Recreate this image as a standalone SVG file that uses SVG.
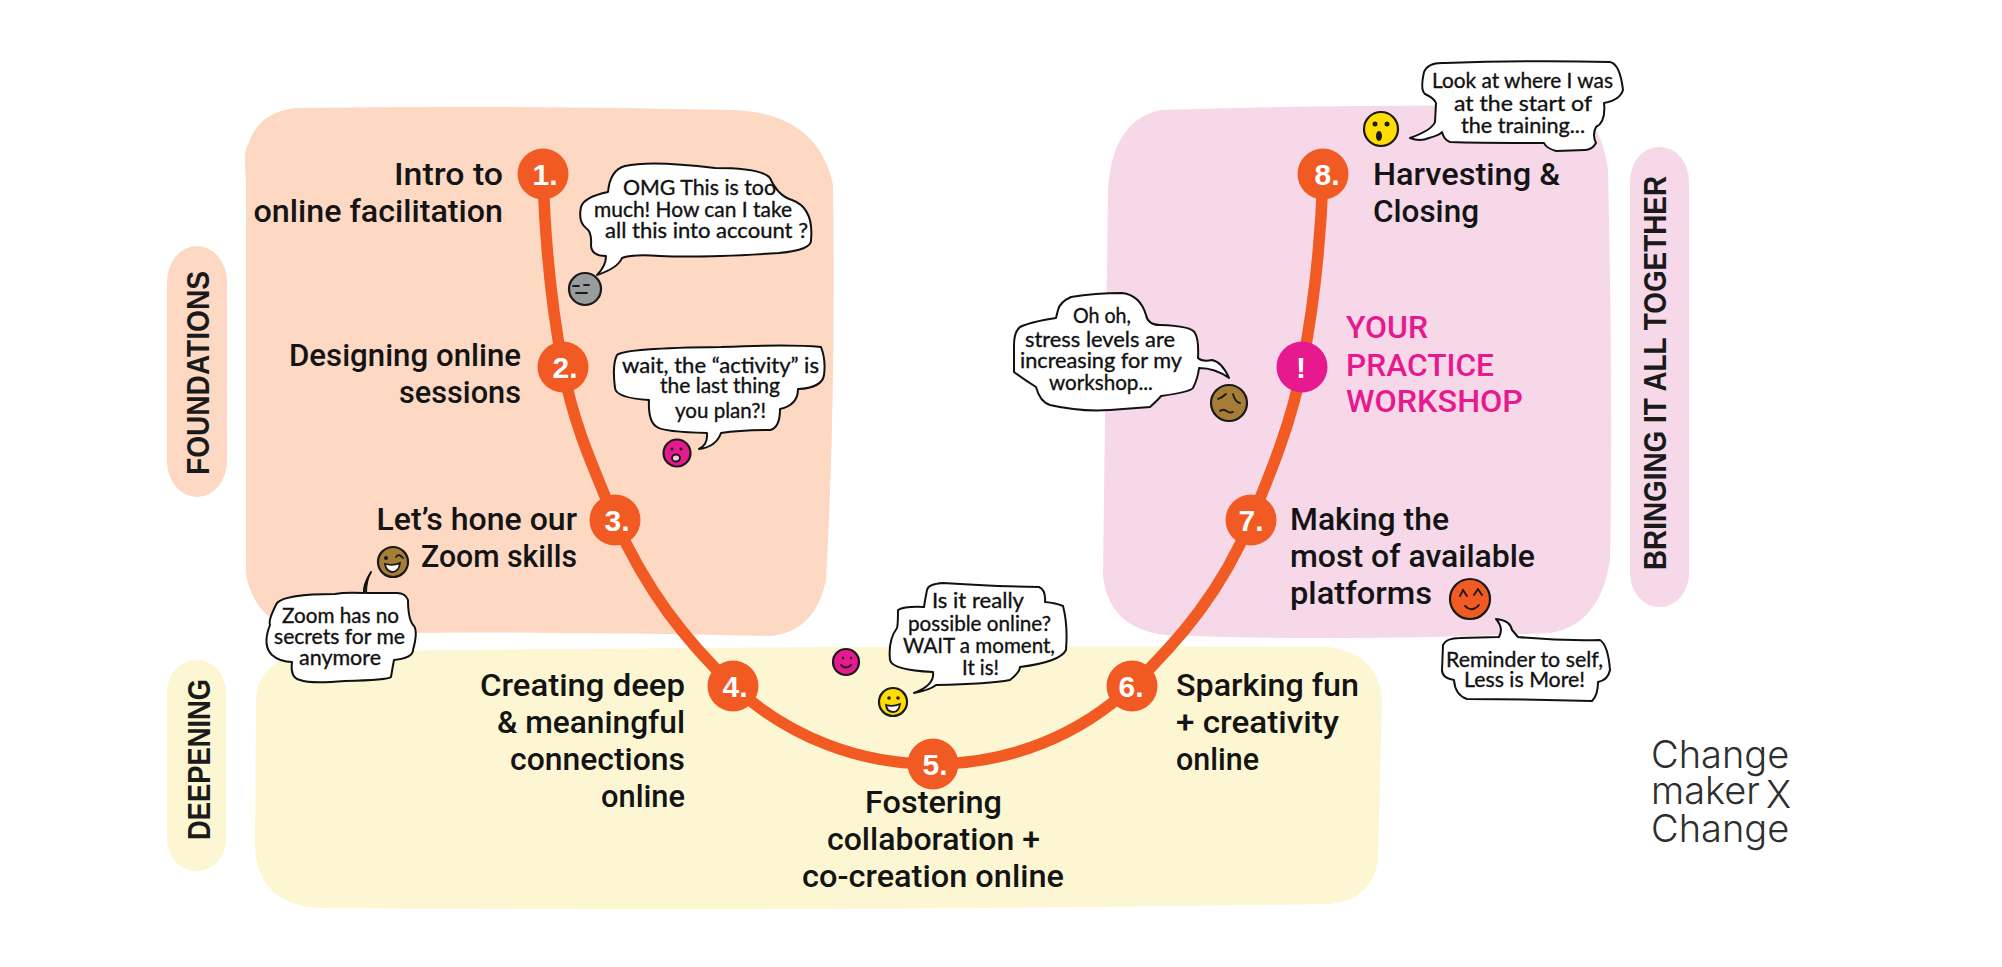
<svg xmlns="http://www.w3.org/2000/svg" width="2002" height="967" viewBox="0 0 2002 967">
<style>
.l{font-family:"Roboto","Liberation Sans",sans-serif;font-weight:500;font-size:31px;fill:#141414}
.p{font-family:"Roboto","Liberation Sans",sans-serif;font-weight:500;font-size:31px;fill:#E6198E}
.n{font-family:"Liberation Sans",Arial,sans-serif;font-weight:700;font-size:30px;fill:#fff;text-anchor:middle}
.s{font-family:"Liberation Sans",Arial,sans-serif;font-weight:700;font-size:31px;fill:#1a1a1a}
.h{font-family:"Lato","Liberation Sans",sans-serif;font-size:21px;fill:#111;stroke:#111;stroke-width:.35}
.g{font-family:"Inter","Liberation Sans",sans-serif;font-weight:300;font-size:38px;fill:#2e2e2e}
.b{fill:#fff;stroke:#111;stroke-width:2;stroke-linejoin:round}
.f{stroke:#1a1a1a;stroke-width:2.2}
.m{fill:none;stroke:#1a1a1a;stroke-width:1.8;stroke-linecap:round}
.d{fill:#1a1a1a}
.o{fill:#F15A22}
</style>
<g id="regions">
<path id="region-foundations" fill="#FDD8C3" d="M296 108 Q500 105 734 110 Q818 114 833 185 Q836 400 826 580 Q815 632 770 636 Q500 630 320 634 Q255 630 246 573 L246 180 Q243 150 248 145 Q258 112 296 108Z"/>
<path id="region-deepening" fill="#FDF6D3" d="M320 652 Q800 645 1327 647 Q1378 652 1382 700 L1378 860 Q1372 900 1330 904 Q800 912 320 908 Q260 905 255 850 L256 700 Q258 655 320 652Z"/>
<path id="region-bringing" fill="#F6D8E8" d="M1161 110 Q1350 104 1560 106 Q1600 110 1608 170 Q1613 400 1610 560 Q1600 625 1550 633 Q1350 642 1165 635 Q1108 628 1103 575 L1108 190 Q1112 120 1161 110Z"/>
<rect id="pill-foundations" x="167" y="246" width="60" height="251" rx="30" ry="36" fill="#FDD8C3"/>
<rect id="pill-deepening" x="167" y="660" width="59" height="211" rx="29" ry="32" fill="#FDF6D3"/>
<rect id="pill-bringing" x="1630" y="147" width="59" height="460" rx="29" ry="34" fill="#F6D8E8"/>
<text class="s" transform="translate(209 475) rotate(-90)" textLength="204" lengthAdjust="spacingAndGlyphs">FOUNDATIONS</text>
<text class="s" transform="translate(209.500 840) rotate(-90)" textLength="161" lengthAdjust="spacingAndGlyphs">DEEPENING</text>
<text class="s" transform="translate(1666 570) rotate(-90)" textLength="394" lengthAdjust="spacingAndGlyphs">BRINGING IT ALL TOGETHER</text>
</g>
<g id="connectors">
<path id="path" fill="none" stroke="#F15A22" stroke-width="11.500" d="M543 174 C545 240 551 305 563 367 C572 420 592 465 615 520 C646 590 685 640 733 686 C790 738 860 764 933 764 C1010 764 1080 735 1132 686 C1180 640 1222 590 1251 520 C1272 470 1292 420 1302 367 C1314 305 1321 240 1323 174"/>
</g>
<g id="node-1"><circle class="o" cx="543" cy="174" r="25.500"/><text class="n" x="545" y="185">1.</text><text class="l" x="394" y="185" textLength="109" lengthAdjust="spacingAndGlyphs">Intro to</text><text class="l" x="253.500" y="222" textLength="249.500" lengthAdjust="spacingAndGlyphs">online facilitation</text></g>
<g id="node-2"><circle class="o" cx="563" cy="367" r="25.500"/><text class="n" x="565" y="378">2.</text><text class="l" x="289" y="366" textLength="232" lengthAdjust="spacingAndGlyphs">Designing online</text><text class="l" x="399" y="403" textLength="122" lengthAdjust="spacingAndGlyphs">sessions</text></g>
<g id="node-3"><circle class="o" cx="615" cy="520" r="25.500"/><text class="n" x="617" y="531">3.</text><text class="l" x="376.500" y="530" textLength="200.500" lengthAdjust="spacingAndGlyphs">Let’s hone our</text><text class="l" x="421" y="567" textLength="156" lengthAdjust="spacingAndGlyphs">Zoom skills</text></g>
<g id="node-4"><circle class="o" cx="733" cy="686" r="25.500"/><text class="n" x="735" y="697">4.</text><text class="l" x="480" y="696" textLength="205" lengthAdjust="spacingAndGlyphs">Creating deep</text><text class="l" x="497" y="733" textLength="188" lengthAdjust="spacingAndGlyphs">&amp; meaningful</text><text class="l" x="510" y="770" textLength="175" lengthAdjust="spacingAndGlyphs">connections</text><text class="l" x="601" y="807" textLength="84" lengthAdjust="spacingAndGlyphs">online</text></g>
<g id="node-5"><circle class="o" cx="933" cy="764" r="25.500"/><text class="n" x="935" y="775">5.</text><text class="l" x="865" y="813" textLength="137" lengthAdjust="spacingAndGlyphs">Fostering</text><text class="l" x="827" y="850" textLength="213" lengthAdjust="spacingAndGlyphs">collaboration +</text><text class="l" x="802" y="887" textLength="262" lengthAdjust="spacingAndGlyphs">co-creation online</text></g>
<g id="node-6"><circle class="o" cx="1132" cy="686" r="25.500"/><text class="n" x="1131" y="697">6.</text><text class="l" x="1176" y="696" textLength="183" lengthAdjust="spacingAndGlyphs">Sparking fun</text><text class="l" x="1176" y="733" textLength="163" lengthAdjust="spacingAndGlyphs">+ creativity</text><text class="l" x="1176" y="770" textLength="83" lengthAdjust="spacingAndGlyphs">online</text></g>
<g id="node-7"><circle class="o" cx="1251" cy="520" r="25.500"/><text class="n" x="1251" y="531">7.</text><text class="l" x="1290" y="530" textLength="159" lengthAdjust="spacingAndGlyphs">Making the</text><text class="l" x="1290" y="567" textLength="245" lengthAdjust="spacingAndGlyphs">most of available</text><text class="l" x="1290" y="604" textLength="142" lengthAdjust="spacingAndGlyphs">platforms</text></g>
<g id="node-practice"><circle cx="1302" cy="367" r="25.500" fill="#E6198E"/><text class="n" x="1301" y="378">!</text><text class="p" x="1346" y="338" textLength="82" lengthAdjust="spacingAndGlyphs">YOUR</text><text class="p" x="1346" y="376" textLength="148" lengthAdjust="spacingAndGlyphs">PRACTICE</text><text class="p" x="1346" y="412" textLength="177" lengthAdjust="spacingAndGlyphs">WORKSHOP</text></g>
<g id="node-8"><circle class="o" cx="1323" cy="174" r="25.500"/><text class="n" x="1327" y="185">8.</text><text class="l" x="1373" y="185" textLength="187" lengthAdjust="spacingAndGlyphs">Harvesting &amp;</text><text class="l" x="1373" y="222" textLength="106" lengthAdjust="spacingAndGlyphs">Closing</text></g>

<g id="bubble-1"><path class="b" d="M597 275 Q606 266 606 256 Q591 256 591 245 Q592 232 586 228 Q578 222 581 207 Q584 197 608 192 Q610 170 625 166 Q650 160 715 168 Q762 168 770 178 Q778 196 792 200 Q814 208 811 240 Q812 250 779 253 Q700 258 660 256 Q632 254 622 258 Q618 268 597 275Z"/><text class="h" x="623" y="195" textLength="153" lengthAdjust="spacingAndGlyphs">OMG This is too</text><text class="h" x="594" y="217" textLength="198" lengthAdjust="spacingAndGlyphs">much! How can I take</text><text class="h" x="605" y="238" textLength="203" lengthAdjust="spacingAndGlyphs">all this into account ?</text>
<g transform="translate(585 289)"><circle class="f" r="16" fill="#9A9B9D"/><path class="m" d="M-12-3H-6M-1-4H4M-9 4H2"/></g></g>

<g id="bubble-2"><path class="b" d="M699 449 Q708 445 707 433 Q664 432 657 427 Q648 422 649 400 Q616 398 615 388 Q612 365 617 355 Q625 348 721 347 Q790 344 821 347 Q826 360 824 375 Q822 388 798 389 Q798 405 780 409 Q780 428 770 430 Q740 430 721 433 Q716 447 699 449Z"/><text class="h" x="622" y="373" textLength="197" lengthAdjust="spacingAndGlyphs">wait, the “activity” is</text><text class="h" x="660" y="393" textLength="120" lengthAdjust="spacingAndGlyphs">the last thing</text><text class="h" x="675" y="418" textLength="91" lengthAdjust="spacingAndGlyphs">you plan?!</text>
<g transform="translate(677 453)"><circle class="f" r="13.500" fill="#E6198E"/><circle class="d" cx="-5" cy="-4" r="1.500"/><circle class="d" cx="4" cy="-4" r="1.500"/><ellipse cx="-1" cy="5" rx="4" ry="3.500" fill="#F8C8DC" stroke="#1a1a1a" stroke-width="1.800"/></g></g>

<g id="bubble-3"><path class="b" d="M371 572 Q363 585 364 593 Q345 592 335 594 Q285 594 277 603 Q268 620 270 625 Q262 645 272 655 Q280 662 292 662 Q290 678 300 680 Q310 684 345 681 Q388 680 391 677 Q393 665 394 660 Q413 658 413 650 Q418 632 414 626 Q408 620 408 600 Q405 592 395 593 L366 593 Q366 580 371 572Z"/><text class="h" x="282" y="623" textLength="117" lengthAdjust="spacingAndGlyphs">Zoom has no</text><text class="h" x="274" y="644" textLength="131" lengthAdjust="spacingAndGlyphs">secrets for me</text><text class="h" x="299" y="665" textLength="82" lengthAdjust="spacingAndGlyphs">anymore</text>
<g transform="translate(393 562)"><circle class="f" r="15" fill="#A67C37"/><circle class="d" cx="-7" cy="-4" r="2"/><path class="m" d="M3-5Q6-9 10-4"/><path d="M-8 2Q0 4 7 1Q6 10-1 10Q-7 9-8 2Z" fill="#fff" stroke="#1a1a1a" stroke-width="1.800"/></g></g>

<g id="bubble-4"><path class="b" d="M914 693 Q930 690 936 685 Q990 684 1010 680 Q1020 672 1020 667 Q1060 662 1066 650 Q1068 625 1063 606 Q1056 603 1045 602 Q1046 590 1039 587 Q985 586 943 583 Q928 584 927 590 Q925 600 924 607 Q905 606 898 610 Q898 625 897 628 Q888 640 890 660 Q892 670 933 672 Q935 685 914 693Z"/><text class="h" x="932" y="608" textLength="92" lengthAdjust="spacingAndGlyphs">Is it really</text><text class="h" x="908" y="631" textLength="143" lengthAdjust="spacingAndGlyphs">possible online?</text><text class="h" x="903" y="653" textLength="152" lengthAdjust="spacingAndGlyphs">WAIT a moment,</text><text class="h" x="962" y="675" textLength="37" lengthAdjust="spacingAndGlyphs">It is!</text>
<g transform="translate(846 662)"><circle class="f" r="13" fill="#E6198E"/><circle class="d" cx="-3" cy="-4" r="1.200"/><circle class="d" cx="5" cy="-4" r="1.200"/><path class="m" d="M-5 3Q0 8 5 3"/></g>
<g transform="translate(893 702)"><circle class="f" r="14" fill="#FFDD00"/><circle class="d" cx="-4" cy="-4" r="1.800"/><circle class="d" cx="5" cy="-4" r="1.800"/><path d="M-7 3Q0 5 7 2Q6 10 0 10Q-6 10-7 3Z" fill="#fff" stroke="#1a1a1a" stroke-width="1.800"/></g></g>

<g id="bubble-5"><path class="b" d="M1410 138 Q1432 130 1435 122 L1436 103 Q1434 98 1425 94 Q1420 90 1424 72 Q1428 62 1445 63 Q1530 60 1610 62 Q1620 64 1623 90 Q1620 100 1604 103 Q1606 122 1596 127 Q1592 135 1596 143 Q1592 150 1585 150 L1556 151 Q1546 148 1544 143 Q1480 143 1450 142 Q1444 140 1442 132 Q1440 135 1429 138 Q1420 142 1410 138Z"/><text class="h" x="1432" y="88" textLength="181" lengthAdjust="spacingAndGlyphs">Look at where I was</text><text class="h" x="1454" y="111" textLength="138" lengthAdjust="spacingAndGlyphs">at the start of</text><text class="h" x="1461" y="133" textLength="124" lengthAdjust="spacingAndGlyphs">the training...</text>
<g transform="translate(1381 129)"><circle class="f" r="17" fill="#FFDD00"/><circle class="d" cx="-6" cy="-5" r="2.500"/><circle class="d" cx="6" cy="-5" r="2.500"/><ellipse class="d" cx="-2" cy="7" rx="3" ry="5"/></g></g>

<g id="bubble-6"><path class="b" d="M1229 378 Q1222 362 1212 360 Q1202 362 1198 358 Q1199 340 1195 333 Q1192 326 1160 325 Q1148 325 1146 315 Q1140 295 1122 293 Q1095 293 1071 297 Q1060 302 1058 310 L1056 318 Q1030 322 1020 327 Q1014 332 1014 345 L1014 372 Q1025 380 1036 387 Q1040 402 1050 405 Q1080 412 1110 410 L1150 407 Q1160 398 1161 396 Q1190 392 1193 388 Q1198 378 1199 368 Q1215 368 1229 378Z"/><text class="h" x="1073" y="323" textLength="58" lengthAdjust="spacingAndGlyphs">Oh oh,</text><text class="h" x="1025" y="347" textLength="150" lengthAdjust="spacingAndGlyphs">stress levels are</text><text class="h" x="1020" y="368" textLength="162" lengthAdjust="spacingAndGlyphs">increasing for my</text><text class="h" x="1049" y="390" textLength="104" lengthAdjust="spacingAndGlyphs">workshop...</text>
<g transform="translate(1229 403)"><circle class="f" r="18" fill="#A67C37"/><path class="m" d="M-11-4Q-6-6-3-9M4-9Q6-1 11 0M-9 8Q-5 5-1 9Q2 10 4 9"/></g></g>

<g id="bubble-7"><path class="b" d="M1496 619 Q1510 620 1512 630 L1518 637 Q1560 641 1600 640 Q1608 645 1610 670 Q1608 680 1598 682 Q1598 695 1592 701 Q1530 699 1467 699 Q1455 695 1454 680 Q1442 678 1442 670 L1443 645 Q1446 638 1460 638 L1499 637 Q1504 628 1496 619Z"/><text class="h" x="1446" y="667" textLength="157" lengthAdjust="spacingAndGlyphs">Reminder to self,</text><text class="h" x="1464" y="687" textLength="121" lengthAdjust="spacingAndGlyphs">Less is More!</text>
<g transform="translate(1470 599)"><circle class="f" r="20" fill="#F15A22"/><path class="m" d="M-10-3L-7-9L-3-3M4-4L8-10L12-4M-5 7Q2 14 9 6"/></g></g>

<g id="logo"><text class="g"><tspan x="1651" y="768">Change</tspan><tspan x="1651" y="804">maker</tspan><tspan x="1766" y="808">X</tspan><tspan x="1651" y="842">Change</tspan></text></g>
</svg>
